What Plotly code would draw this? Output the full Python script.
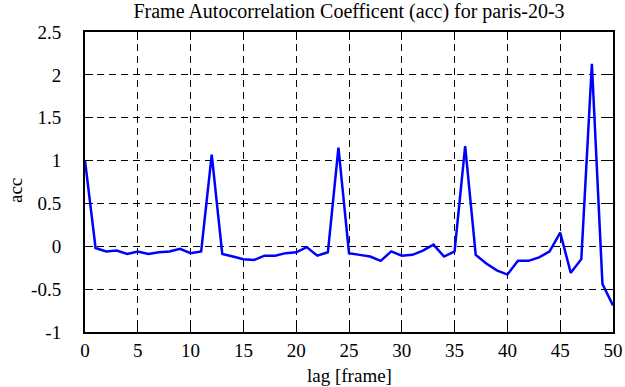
import plotly.graph_objects as go

lags = list(range(51))
acc = [1.00, -0.02, -0.06, -0.05, -0.09, -0.06, -0.09, -0.07, -0.06, -0.03,
       -0.08, -0.06, 1.07, -0.09, -0.12, -0.15, -0.16, -0.11, -0.11, -0.08,
       -0.07, -0.01, -0.11, -0.07, 1.15, -0.08, -0.10, -0.12, -0.17, -0.06,
       -0.11, -0.10, -0.05, 0.02, -0.12, -0.06, 1.17, -0.10, -0.20, -0.28,
       -0.33, -0.17, -0.17, -0.13, -0.06, 0.16, -0.31, -0.15, 2.13, -0.44,
       -0.69]
x_ticks = [0, 5, 10, 15, 20, 25, 30, 35, 40, 45, 50]
y_ticks = [-1, -0.5, 0, 0.5, 1, 1.5, 2, 2.5]
y_tick_text = ["-1", "-0.5", "0", "0.5", "1", "1.5", "2", "2.5"]

FONT = "Liberation Serif, serif"

fig = go.Figure()
fig.add_trace(go.Scatter(x=lags, y=acc, mode="lines",
                         line=dict(color="#0000ff", width=2.5), showlegend=False))

axis_common = dict(showline=True, linecolor="black", linewidth=2, mirror="ticks",
                   ticks="inside", ticklen=8, tickcolor="black", tickwidth=1,
                   showgrid=True, gridcolor="black", gridwidth=1, griddash="7px,5px",
                   zeroline=False, automargin=False,
                   tickfont=dict(family=FONT, size=19, color="black"))

fig.update_xaxes(range=[0, 50], tickvals=x_ticks, ticklabelstandoff=0, **axis_common)
fig.update_yaxes(range=[-1, 2.5], tickvals=y_ticks, ticktext=y_tick_text,
                 ticklabelstandoff=18, **axis_common)

fig.update_layout(
    width=625, height=387,
    margin=dict(l=85, r=12, t=32, b=55, autoexpand=False),
    font=dict(family=FONT, size=19, color="black"),
    paper_bgcolor="white", plot_bgcolor="white",
    title=dict(text="Frame Autocorrelation Coefficent (acc) for paris-20-3",
               font=dict(family=FONT, size=20, color="black"),
               x=(85 + 613) / 2 / 625, xanchor="center",
               y=1 - 11 / 387, yanchor="middle"),
    annotations=[
        dict(text="lag [frame]", xref="paper", yref="paper", x=0.5, y=-43.5 / 300,
             yanchor="middle", showarrow=False,
             font=dict(family=FONT, size=19, color="black")),
        dict(text="acc", xref="paper", yref="paper", x=-70 / 528, y=0.47,
             xanchor="center", yanchor="middle", textangle=-90, showarrow=False,
             font=dict(family=FONT, size=19, color="black")),
    ],
)

fig.write_html("out.html", config={"displayModeBar": False},
               post_script="document.body.style.margin='0';")
